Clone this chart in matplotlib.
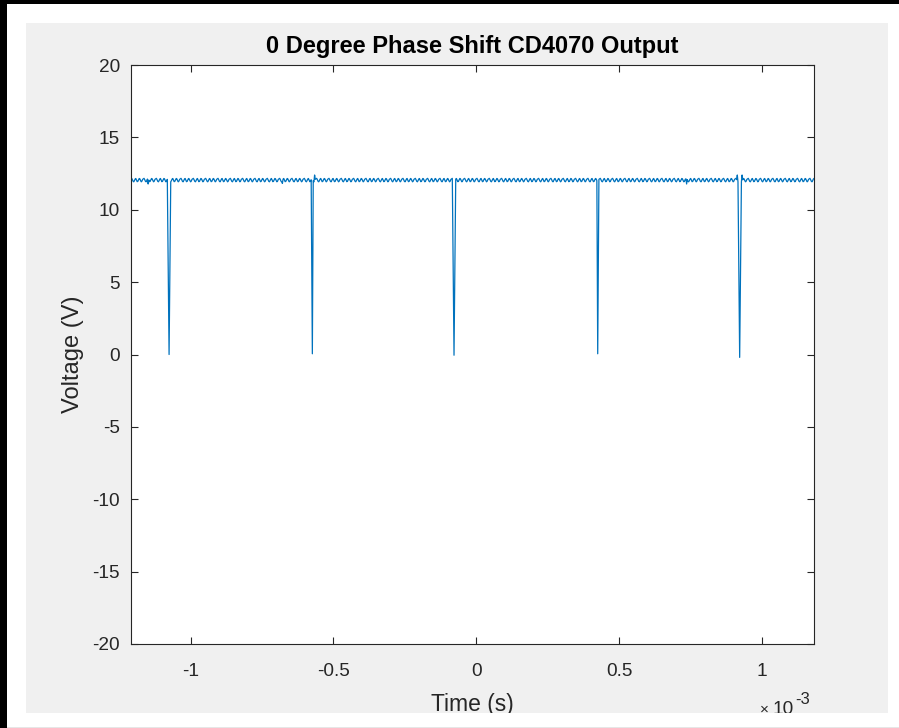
import numpy as np
import matplotlib
matplotlib.use("Agg")
import matplotlib.pyplot as plt
from matplotlib.patches import Rectangle
from matplotlib.ticker import FuncFormatter, MultipleLocator

plt.rcParams['font.family'] = ['Liberation Sans', 'DejaVu Sans']
plt.rcParams['axes.unicode_minus'] = False

# scope capture of the XOR output (time in ms, volts)
sample_step_ms = 0.0024
t_start_ms = -1.2094
t_stop_ms = 1.1833
baseline_v = 12.05
ripple_v = [0.09, 0.12, 0.03, -0.08, -0.12, -0.04, 0.07, 0.11, 0.0,
            -0.11, -0.09, 0.02, 0.11, 0.08, -0.04, -0.12, -0.07, 0.05]

spike_t_ms = [-1.0760, -0.5741, -0.0778, 0.4256, 0.9229]
spike_min_v = [0.0, 0.05, -0.05, 0.05, -0.2]
spike_width_ms = [0.011, 0.005, 0.010, 0.005, 0.011]

glitch_t_ms = [-1.1495, -0.680, -0.566, 0.737, 0.914, 0.932]
glitch_v = [11.78, 11.82, 12.40, 11.78, 12.40, 12.40]

y_ticks = [-20, -15, -10, -5, 0, 5, 10, 15, 20]

# build the trace
t = np.arange(t_start_ms, t_stop_ms + sample_step_ms, sample_step_ms)
v = baseline_v + np.resize(np.array(ripple_v), t.size)
for gt, gv in zip(glitch_t_ms, glitch_v):
    v[np.argmin(np.abs(t - gt))] = gv
for ts, vm, w in zip(spike_t_ms, spike_min_v, spike_width_ms):
    keep = np.abs(t - ts) >= w / 2
    t = np.concatenate([t[keep], [ts]])
    v = np.concatenate([v[keep], [vm]])
order = np.argsort(t)
t, v = t[order], v[order]

W, H = 899, 728
fig = plt.figure(figsize=(W / 100, H / 100), dpi=100)
fig.patch.set_facecolor('#f0f0f0')


def px_rect(x0, y0, x1, y1, color):
    # rectangle given in pixel coords from the top-left corner
    r = Rectangle((x0 / W, 1 - y1 / H), (x1 - x0) / W, (y1 - y0) / H,
                  transform=fig.transFigure, facecolor=color,
                  edgecolor='none', zorder=10)
    fig.add_artist(r)


ax = fig.add_axes([131 / W, 1 - 644 / H, (814 - 131) / W, (644 - 65) / H])
ax.plot(t * 1e-3, v, color='#0072BD', lw=0.9)

ax.set_xlim(t_start_ms * 1e-3, t_stop_ms * 1e-3)
ax.set_ylim(-20, 20)
ax.set_yticks(y_ticks)
ax.xaxis.set_major_locator(MultipleLocator(0.5e-3))
ax.xaxis.set_major_formatter(FuncFormatter(lambda x, p: f'{round(x * 1e3, 3) + 0.0:g}'))

for s in ax.spines.values():
    s.set_color('#262626')
    s.set_linewidth(0.8)
ax.tick_params(direction='in', top=True, right=True, length=5, width=0.8,
               colors='#262626', labelsize=13.7)
ax.tick_params(axis='x', pad=13.5)
ax.tick_params(axis='y', pad=8)

ax.set_title('0 Degree Phase Shift CD4070 Output', fontsize=17,
             fontweight='bold', pad=8.6, color='black')
ax.set_xlabel('Time (s)', fontsize=16.5, color='#262626', va='baseline')
ax.xaxis.set_label_coords(0.5, -(711 - 644) / 579)
ax.set_ylabel('Voltage (V)', fontsize=17, color='#262626')
ax.yaxis.set_label_coords(-(131 - 84) / 683, 0.5)

# axis exponent, drawn as base plus raised power
fig.text(760 / W, 1 - 714 / H, '\u00d7', ha='left', va='baseline',
         fontsize=11, color='#262626')
fig.text(794 / W, 1 - 714 / H, '10', ha='right', va='baseline',
         fontsize=13.7, color='#262626')
fig.text(795 / W, 1 - 704 / H, '-3', ha='left', va='baseline',
         fontsize=12, color='#262626')

# window frame around the figure area
px_rect(7, 4, W, 23, 'white')
px_rect(7, 4, 26, H, 'white')
px_rect(888, 4, W, H, 'white')
px_rect(7, 713, W, H, 'white')
px_rect(7, 727, W, H, '#e6e6e6')
px_rect(0, 0, W, 4, 'black')
px_rect(0, 0, 7, H, 'black')

fig.savefig('out.png', dpi=100, facecolor=fig.get_facecolor())
